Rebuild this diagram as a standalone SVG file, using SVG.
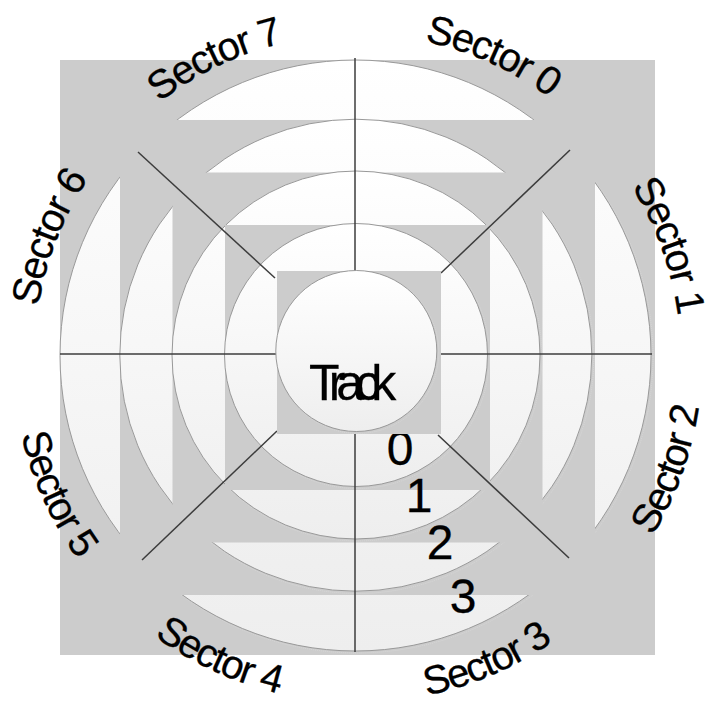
<svg xmlns="http://www.w3.org/2000/svg" width="717" height="712" viewBox="0 0 717 712">
<defs>
<linearGradient id="g" x1="0" y1="0" x2="0" y2="1">
<stop offset="0" stop-color="#ffffff"/>
<stop offset="1" stop-color="#eeeeee"/>
</linearGradient>
<path id="p0" d="M233.89,59.09 A323,323 0 0 1 655.91,233.89"/>
<path id="p1" d="M481.11,59.09 A323,323 0 0 1 655.91,481.11"/>
<path id="p6" d="M59.09,481.11 A323,323 0 0 1 233.89,59.09"/>
<path id="p7" d="M59.09,233.89 A323,323 0 0 1 481.11,59.09"/>
<path id="p2" d="M489.52,676.24 A345,345 0 0 0 676.24,225.48"/>
<path id="p3" d="M225.48,676.24 A345,345 0 0 0 676.24,489.52"/>
<path id="p4" d="M38.76,489.52 A345,345 0 0 0 489.52,676.24"/>
<path id="p5" d="M38.76,225.48 A345,345 0 0 0 225.48,676.24"/>
</defs>
<style>
.sq{fill:#cccccc;stroke:none}
.tr{fill:url(#g);stroke:#999999;stroke-width:1}
.sh{fill:none;stroke:#d8d8d8;stroke-width:1;stroke-dasharray:1 1}
.ln{stroke:#3c3c3c;stroke-width:1.5;fill:none}
.sec{font-family:"Liberation Sans",Arial,sans-serif;font-size:40px;fill:#000;stroke:#000;stroke-width:0.3;letter-spacing:-1.5px}
.num{font-family:"Liberation Sans",Arial,sans-serif;font-size:48px;fill:#000;stroke:#000;stroke-width:0.3;text-anchor:middle}
.trk{font-family:"Liberation Sans",Arial,sans-serif;font-size:50px;fill:#000;stroke:#000;stroke-width:0.3;letter-spacing:-9px}
</style>
<g id="track3">
<rect class="sq" x="60" y="60" width="595" height="595"/>
<circle class="sh" cx="357" cy="357" r="296"/>
<circle class="tr" cx="355.5" cy="355.5" r="295.5"/>
</g>
<g id="track2">
<rect class="sq" x="120" y="120" width="475" height="475"/>
<circle class="sh" cx="357.3" cy="357" r="236.5"/>
<circle class="tr" cx="355.8" cy="355.2" r="236"/>
</g>
<g id="track1">
<rect class="sq" x="172.5" y="172.5" width="370" height="370"/>
<circle class="sh" cx="357.5" cy="356.5" r="184.5"/>
<circle class="tr" cx="356" cy="355" r="184"/>
</g>
<g id="track0">
<rect class="sq" x="225" y="225" width="265" height="265"/>
<circle class="sh" cx="357.5" cy="356.5" r="132"/>
<circle class="tr" cx="356" cy="355" r="131.5"/>
</g>
<g id="labels-tracks">
<text class="num" x="400" y="465">0</text>
<text class="num" x="419" y="512">1</text>
<text class="num" x="440" y="559">2</text>
<text class="num" x="463" y="613">3</text>
</g>
<g id="connectors">
<line class="ln" x1="355" y1="58" x2="355" y2="652"/>
<line class="ln" x1="60" y1="354" x2="652" y2="354"/>
<line class="ln" x1="138" y1="152" x2="275" y2="278"/>
<line class="ln" x1="570" y1="150" x2="441" y2="273"/>
<line class="ln" x1="438" y1="435" x2="569" y2="558"/>
<line class="ln" x1="277" y1="431" x2="142" y2="560"/>
</g>
<g id="center">
<rect class="sq" x="277" y="271" width="164" height="163"/>
<circle class="sh" cx="357.8" cy="352.5" r="81"/>
<circle class="tr" cx="356.3" cy="351" r="80.5"/>
<text class="trk" x="309" y="400">Track</text>
</g>
<g id="sectors">
<text class="sec"><textPath href="#p0" startOffset="51.8%" text-anchor="middle">Sector 0</textPath></text>
<text class="sec"><textPath href="#p1" startOffset="53%" text-anchor="middle">Sector 1</textPath></text>
<text class="sec"><textPath href="#p2" startOffset="53%" text-anchor="middle">Sector 2</textPath></text>
<text class="sec"><textPath href="#p3" startOffset="50.5%" text-anchor="middle">Sector 3</textPath></text>
<text class="sec"><textPath href="#p4" startOffset="47.5%" text-anchor="middle">Sector 4</textPath></text>
<text class="sec"><textPath href="#p5" startOffset="52%" text-anchor="middle">Sector 5</textPath></text>
<text class="sec"><textPath href="#p6" startOffset="48.6%" text-anchor="middle">Sector 6</textPath></text>
<text class="sec"><textPath href="#p7" startOffset="46.5%" text-anchor="middle">Sector 7</textPath></text>
</g>
</svg>
